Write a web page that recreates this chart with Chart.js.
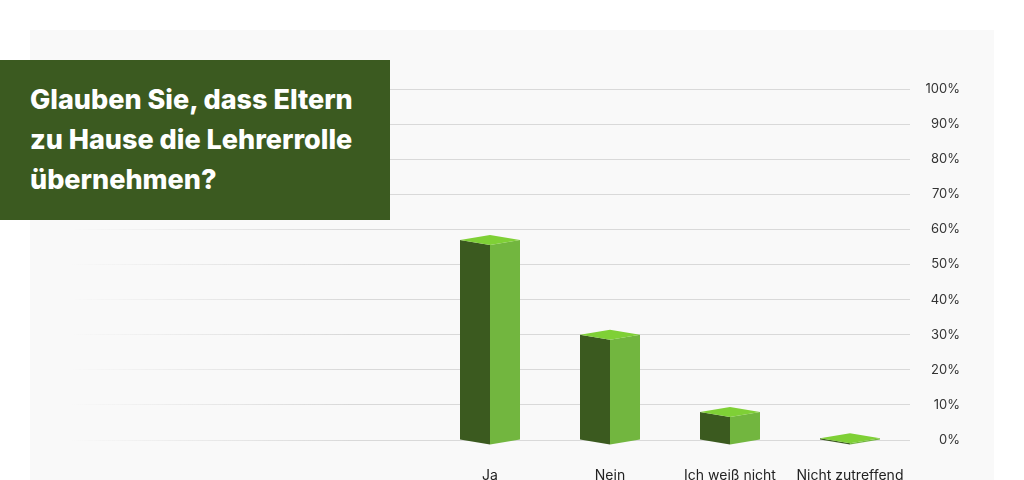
<!DOCTYPE html>
<html lang="de">
<head>
<meta charset="utf-8">
<title>Glauben Sie, dass Eltern zu Hause die Lehrerrolle übernehmen?</title>
<script src="https://cdn.jsdelivr.net/npm/chart.js@4/dist/chart.umd.min.js"></script>
<style>
    html, body { margin: 0; padding: 0; background: #ffffff; overflow: hidden; }
    body { width: 1024px; height: 480px; position: relative; }
    #panel { position: absolute; left: 30px; top: 30px; width: 964px; height: 470px; background: #f9f9f9; }
    #chartWrap { position: absolute; left: 0; top: 0; width: 1024px; height: 500px; }
    #titleBox {
        position: absolute; left: 0; top: 60px; width: 390px; height: 160px;
        background: #3b5a20; color: #ffffff;
        font-family: Inter, "Open Sans", sans-serif; font-weight: 800;
        font-size: 27px; line-height: 40px; letter-spacing: 0px;
        box-sizing: border-box; padding: 20px 0 0 30px;
    }
</style>
</head>
<body>
<div id="panel"></div>
<div id="chartWrap"><canvas id="surveyChart" width="1024" height="500"></canvas></div>
<div id="titleBox">Glauben Sie, dass Eltern<br>zu Hause die Lehrerrolle<br>übernehmen?</div>
<script>
// Chart data
const categories = ['Ja', 'Nein', 'Ich weiß nicht', 'Nicht zutreffend'];
const percentValues = [57, 30, 8, 0.5];
const yTicks = [0, 10, 20, 30, 40, 50, 60, 70, 80, 90, 100];

// Bar colours (3D faces)
const frontLeft = '#3b5a1f';
const frontRight = '#72b63f';
const topFace = '#7fd036';

// Draw every bar as a little 3D box
const box3d = {
    id: 'box3d',
    afterDatasetsDraw(chart) {
        const ctx = chart.ctx;
        const meta = chart.getDatasetMeta(0);
        const d = 5;
        meta.data.forEach(bar => {
            const cx = bar.x;
            const half = bar.width / 2;
            const top = bar.y;
            const base = bar.base;
            ctx.save();
            // left face
            ctx.fillStyle = frontLeft;
            ctx.beginPath();
            ctx.moveTo(cx - half, top);
            ctx.lineTo(cx, top + d);
            ctx.lineTo(cx, base + d);
            ctx.lineTo(cx - half, base);
            ctx.closePath();
            ctx.fill();
            // right face
            ctx.fillStyle = frontRight;
            ctx.beginPath();
            ctx.moveTo(cx, top + d);
            ctx.lineTo(cx + half, top);
            ctx.lineTo(cx + half, base);
            ctx.lineTo(cx, base + d);
            ctx.closePath();
            ctx.fill();
            // top face
            ctx.fillStyle = topFace;
            ctx.beginPath();
            ctx.moveTo(cx - half, top);
            ctx.lineTo(cx, top - d);
            ctx.lineTo(cx + half, top);
            ctx.lineTo(cx, top + d);
            ctx.closePath();
            ctx.fill();
            ctx.restore();
        });
    }
};

// Grid lines fade out towards the left
function gridColor(context) {
    const chart = context.chart;
    const area = chart.chartArea;
    if (!area) return '#d9d9d9';
    const g = chart.ctx.createLinearGradient(area.left, 0, area.left + 280, 0);
    g.addColorStop(0, 'rgba(217,217,217,0)');
    g.addColorStop(1, 'rgba(217,217,217,1)');
    return g;
}

const ctx = document.getElementById('surveyChart').getContext('2d');
new Chart(ctx, {
    type: 'bar',
    data: {
        datasets: [{
            data: percentValues.map((v, i) => ({ x: i, y: v })),
            backgroundColor: 'rgba(0,0,0,0)',
            borderWidth: 0,
            barThickness: 60
        }]
    },
    plugins: [box3d],
    options: {
        responsive: false,
        animation: false,
        layout: { padding: { top: 89, right: 64, left: 70, bottom: 0 } },
        plugins: {
            legend: { display: false },
            tooltip: { enabled: false }
        },
        scales: {
            x: {
                type: 'linear',
                offset: false,
                min: -3.5,
                max: 3.5,
                grid: { display: false, drawTicks: false },
                border: { display: false },
                afterBuildTicks: scale => {
                    scale.ticks = categories.map((c, i) => ({ value: i }));
                },
                afterFit: scale => { scale.height = 60; },
                ticks: {
                    autoSkip: false,
                    maxRotation: 0,
                    padding: 27,
                    color: '#222222',
                    font: { family: 'Inter, "Open Sans", sans-serif', size: 14 },
                    callback: value => categories[value] ?? ''
                }
            },
            y: {
                position: 'right',
                min: 0,
                max: 100,
                afterBuildTicks: scale => {
                    scale.ticks = yTicks.map(v => ({ value: v }));
                },
                afterFit: scale => { scale.width = 50; },
                grid: { color: gridColor, lineWidth: 1, drawTicks: false },
                border: { display: false },
                ticks: {
                    crossAlign: 'far',
                    color: '#333333',
                    font: { family: 'Inter, "Open Sans", sans-serif', size: 13 },
                    callback: value => value + '%'
                }
            }
        }
    }
});
</script>
</body>
</html>
